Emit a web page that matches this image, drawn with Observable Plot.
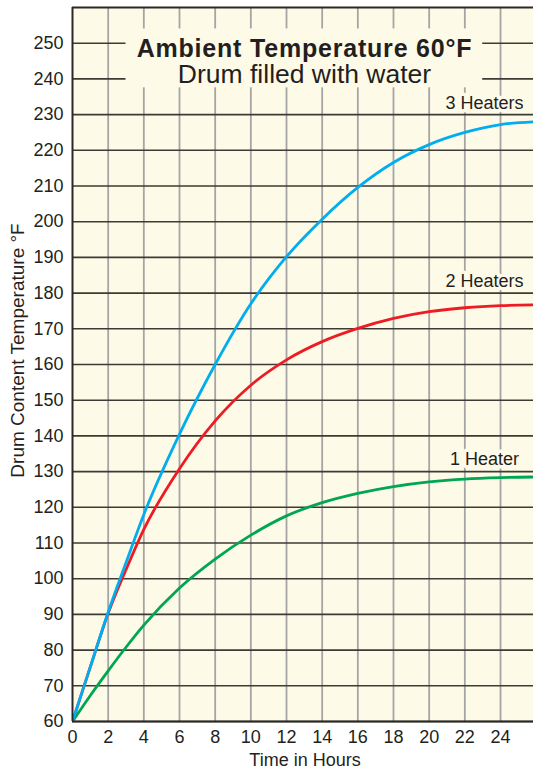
<!DOCTYPE html>
<html><head><meta charset="utf-8">
<script src="https://cdn.jsdelivr.net/npm/d3@7"></script>
<script src="https://cdn.jsdelivr.net/npm/@observablehq/plot@0.6"></script>
<style>
html,body{margin:0;padding:0;background:#fff;}
.title1 text{letter-spacing:0.8px;}
</style>
</head><body><div id="chart"></div>
<script>
// ---- data ----
const hours        = [0, 1, 2, 3, 4, 6, 8, 10, 12, 14, 16, 18, 20, 22, 24, 26];
const oneHeater    = [60, 67.3, 74.2, 80.8, 87, 97.4, 105.5, 112.2, 117.6, 121.3, 123.9, 125.8, 127.1, 127.9, 128.3, 128.5];
const twoHeaters   = [60, 75.3, 90.3, 102.5, 113.8, 130.8, 144.2, 154.2, 161.3, 166.4, 170.1, 172.9, 174.8, 175.9, 176.5, 176.7];
const threeHeaters = [60, 75.3, 90.6, 104.5, 118, 140.5, 160, 177, 190.2, 200.7, 209.6, 216.6, 221.6, 225, 227.2, 228];
const seriesNames  = ["1 Heater", "2 Heaters", "3 Heaters"];
const xTicks = [0, 2, 4, 6, 8, 10, 12, 14, 16, 18, 20, 22, 24];
const yTicks = [60, 70, 80, 90, 100, 110, 120, 130, 140, 150, 160, 170, 180, 190, 200, 210, 220, 230, 240, 250];
const titleLine1 = "Ambient Temperature 60°F";
const titleLine2 = "Drum filled with water";
const xLabel = "Time in Hours";
const yLabel = "Drum Content Temperature °F";

// ---- styles ----
const BG = "#fefae8";
const INK = "#231f20";
const FONT = "'Liberation Sans', Arial, Helvetica, sans-serif";
const seriesColors = ["#00a651", "#ed1c24", "#00aeef"];
const labelDy = [-18.7, -24.7, -21.3];
const labelHour = 23.1;
const titleBox = {x1: 3.0, x2: 23.0, y1: 237.5, y2: 254};

const seriesValues = [oneHeater, twoHeaters, threeHeaters];
const lineMarks = [];
const labelMarks = [];
seriesValues.forEach((vals, i) => {
  const rows = vals.map((v, j) => ({hour: hours[j], temp: v}));
  lineMarks.push(Plot.line(rows, {x: "hour", y: "temp", stroke: seriesColors[i], strokeWidth: 2.8, curve: "monotone-x", clip: true}));
  const at24 = vals[hours.indexOf(24)];
  labelMarks.push(Plot.text([{name: seriesNames[i], hour: labelHour, temp: at24}], {
    x: "hour", y: "temp", text: "name", dy: labelDy[i], fontSize: 18, fill: INK,
    stroke: BG, strokeWidth: 7, paintOrder: "stroke", textAnchor: "middle", lineAnchor: "middle"
  }));
});

const chart = Plot.plot({
  width: 533, height: 769,
  marginLeft: 72, marginRight: 0, marginTop: 7, marginBottom: 48,
  x: {domain: [0, 25.85]},
  y: {domain: [60, 260]},
  style: {fontFamily: FONT, fontSize: "18px", background: "#fff", color: INK, overflow: "visible"},
  marks: [
    Plot.frame({fill: BG, stroke: null}),
    Plot.ruleX(xTicks.filter(d => d > 0), {stroke: "#a5a5a5", strokeWidth: 1.8}),
    Plot.ruleY(yTicks, {stroke: "#3e3a35", strokeWidth: 1.6}),
    Plot.rect([titleBox], {x1: "x1", x2: "x2", y1: "y1", y2: "y2", fill: BG}),
    Plot.text([titleLine1], {text: d => d, frameAnchor: "top", lineAnchor: "top", dy: 31.3, dx: 1.5,
      fontSize: 25, fontWeight: "bold", fill: INK, className: "title1"}),
    Plot.text([titleLine2], {text: d => d, frameAnchor: "top", lineAnchor: "top", dy: 56.3, dx: 1.5,
      fontSize: 26.5, fill: INK}),
    ...labelMarks,
    ...lineMarks,
    Plot.ruleX([0], {stroke: "#2b2825", strokeWidth: 2}),
    Plot.ruleY([60], {stroke: "#2b2825", strokeWidth: 2}),
    Plot.ruleY([260], {stroke: "#2b2825", strokeWidth: 2}),
    Plot.axisX({ticks: xTicks, tickSize: 0, tickPadding: 9, fontSize: 18, label: null, fill: INK}),
    Plot.axisY({ticks: yTicks, tickSize: 0, tickPadding: 9, fontSize: 18, label: null, fill: INK}),
    Plot.text([xLabel], {text: d => d, frameAnchor: "bottom", dy: 38.5, dx: 2, fontSize: 18, fill: INK, lineAnchor: "middle"}),
    Plot.text([yLabel], {text: d => d, frameAnchor: "left", rotate: -90, dx: -54.5, dy: -14, fontSize: 19, fill: INK, lineAnchor: "middle", textAnchor: "middle"})
  ]
});
document.getElementById("chart").appendChild(chart);
</script>
</body></html>
